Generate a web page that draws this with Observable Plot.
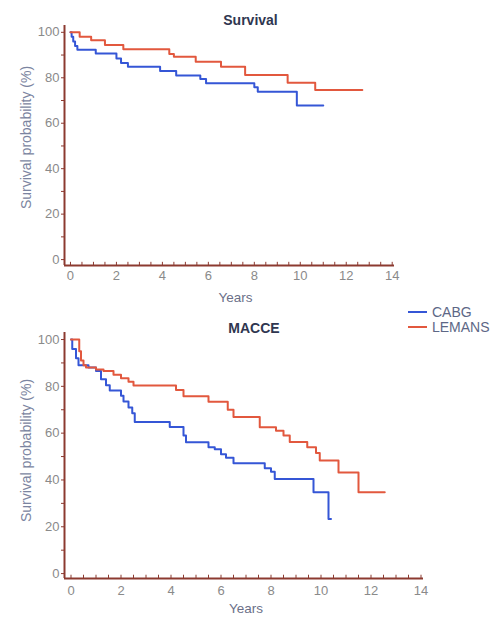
<!DOCTYPE html>
<html><head><meta charset="utf-8">
<script src="https://cdn.jsdelivr.net/npm/d3@7"></script>
<script src="https://cdn.jsdelivr.net/npm/@observablehq/plot@0.6"></script>
<style>
body{margin:0;background:#fff;font-family:"Liberation Sans",Arial,sans-serif;}
#wrap{position:relative;width:494px;height:618px;overflow:hidden;}
.chart svg{display:block}
.leg{position:absolute;left:408px;font-size:14px;color:#5d6786;line-height:15px;white-space:nowrap}
.leg span.sw{display:inline-block;width:19px;height:2px;vertical-align:middle;margin-right:5px;position:relative;top:-1px}
</style></head><body>
<div id="wrap">
  <div id="top" class="chart"></div>
  <div id="bottom" class="chart"></div>
  <div class="leg" style="top:305px"><span class="sw" style="background:#3556d6"></span>CABG</div>
  <div class="leg" style="top:320px"><span class="sw" style="background:#e2583e"></span>LEMANS</div>
</div>
<script>
// ---- data ----
const groups = ["CABG", "LEMANS"];
const groupColors = ["#3556d6", "#e2583e"];

// Survival
const survCabgYears = [0, 0.05, 0.12, 0.2, 0.3, 1.1, 2.0, 2.2, 2.5, 3.9, 4.6, 5.65, 5.9, 8.0, 8.15, 9.85, 11.0];
const survCabgPct   = [100, 98, 96, 94, 92.3, 90.7, 88.5, 86.5, 84.8, 83, 81, 79.5, 77.6, 75.8, 73.9, 67.8, 67.8];
const survLemansYears = [0, 0.4, 0.9, 1.5, 2.3, 4.3, 4.5, 5.45, 6.55, 7.6, 9.45, 10.65, 12.7];
const survLemansPct   = [100, 98, 96.5, 94.4, 92.5, 90.5, 89.2, 87, 84.9, 81.2, 77.8, 74.6, 74.6];

// MACCE
const macceCabgYears = [0, 0.05, 0.2, 0.3, 0.7, 1.0, 1.2, 1.4, 1.55, 2.0, 2.1, 2.3, 2.45, 2.55, 3.95, 4.5, 4.6, 5.5, 5.75, 6.0, 6.2, 6.5, 7.75, 8.0, 8.15, 9.7, 10.3, 10.4];
const macceCabgPct   = [100, 96, 92, 89, 88, 86.5, 83, 80.5, 78.2, 76, 73.5, 71, 68.5, 64.8, 62.6, 59, 56.1, 54, 53.1, 51, 49.5, 47.1, 45, 43.5, 40.4, 34.7, 23.3, 23.3];
const macceLemansYears = [0, 0.33, 0.4, 0.5, 0.6, 1.0, 1.3, 1.7, 2.0, 2.3, 2.5, 4.2, 4.5, 5.5, 6.27, 6.5, 7.55, 8.2, 8.5, 8.75, 9.45, 9.8, 9.95, 10.7, 11.5, 12.55];
const macceLemansPct   = [100, 95, 91, 89, 88, 87.2, 86.5, 85, 83.5, 82, 80.4, 78.4, 75.8, 73.4, 70, 66.9, 62.5, 61, 59, 56.2, 54, 51.5, 48.3, 43.2, 34.7, 34.7];

const xTickLabels = [0, 2, 4, 6, 8, 10, 12, 14];
const yTickLabels = [0, 20, 40, 60, 80, 100];
const titles = ["Survival", "MACCE"];
const xLabel = "Years";
const yLabel = "Survival probability (%)";

// ---- helpers ----
function toRows(years, pct, g) { return years.map((t, i) => ({t, s: pct[i], g})); }
const axisColor = "#8c3a30";
const xMinor = d3.range(0, 14.01, 0.5);
const yMinor = d3.range(0, 100.1, 10);

function km(el, cfg) {
  const xd = [-0.26, 14.1];
  const yd = cfg.yd;
  const rows = [...toRows(cfg.cabgT, cfg.cabgS, "CABG"), ...toRows(cfg.lemT, cfg.lemS, "LEMANS")];
  const chart = Plot.plot({
    width: 494, height: cfg.height,
    marginLeft: 64, marginRight: cfg.marginRight, marginTop: cfg.marginTop, marginBottom: cfg.marginBottom,
    style: {fontFamily: "Liberation Sans, Arial, sans-serif", fontSize: "13px", background: "white", overflow: "visible"},
    x: {domain: xd, label: null},
    y: {domain: yd, label: null},
    color: {domain: groups, range: groupColors},
    marks: [
      Plot.axisX(xTickLabels, {tickSize: 0, tickPadding: cfg.xPad, fill: "#8a8a8a", fontSize: 13, label: null}),
      Plot.axisY(yMinor, {tickSize: 3, stroke: axisColor, tickFormat: () => "", label: null}),
      Plot.axisY(yTickLabels, {tickSize: 0, tickPadding: 5, fill: "#8a8a8a", fontSize: 13, label: null}),
      Plot.ruleX(xMinor, {x: d => d, y1: yd[0], y2: yd[0] + 1.4, stroke: axisColor, strokeWidth: 1}),
      Plot.line(rows, {x: "t", y: "s", z: "g", stroke: "g", curve: "step-after", strokeWidth: 2}),
      Plot.ruleX([xd[0]], {stroke: axisColor, strokeWidth: 2}),
      Plot.ruleY([yd[0]], {stroke: axisColor, strokeWidth: 2}),
      Plot.text([cfg.title], {frameAnchor: "top", dx: cfg.titleDx, dy: cfg.titleDy, fontWeight: "bold", fontSize: 14, fill: "#2f3650"}),
      Plot.text([xLabel], {frameAnchor: "bottom", dx: cfg.xLabDx, dy: cfg.xLabDy, fontSize: 13.5, fill: "#6b7088", lineAnchor: "middle"}),
      Plot.text([yLabel], {frameAnchor: "left", textAnchor: "middle", rotate: -90, dx: -38, dy: cfg.yLabDy, fontSize: 14, fill: "#7b84a0"})
    ]
  });
  document.getElementById(el).appendChild(chart);
}

km("top", {
  height: 305, marginTop: 25, marginBottom: 40, marginRight: 100, yd: [-2.6, 103],
  cabgT: survCabgYears, cabgS: survCabgPct, lemT: survLemansYears, lemS: survLemansPct,
  title: titles[0], titleDx: 21, titleDy: -10, xPad: 5, xLabDx: 6, xLabDy: 32, yLabDy: -8
});
km("bottom", {
  height: 313, marginTop: 27, marginBottom: 40, marginRight: 71, yd: [-2.1, 103],
  cabgT: macceCabgYears, cabgS: macceCabgPct, lemT: macceLemansYears, lemS: macceLemansPct,
  title: titles[1], titleDx: 10, titleDy: -9, xPad: 7, xLabDx: 2, xLabDy: 30, yLabDy: -5
});
</script>
</body></html>
